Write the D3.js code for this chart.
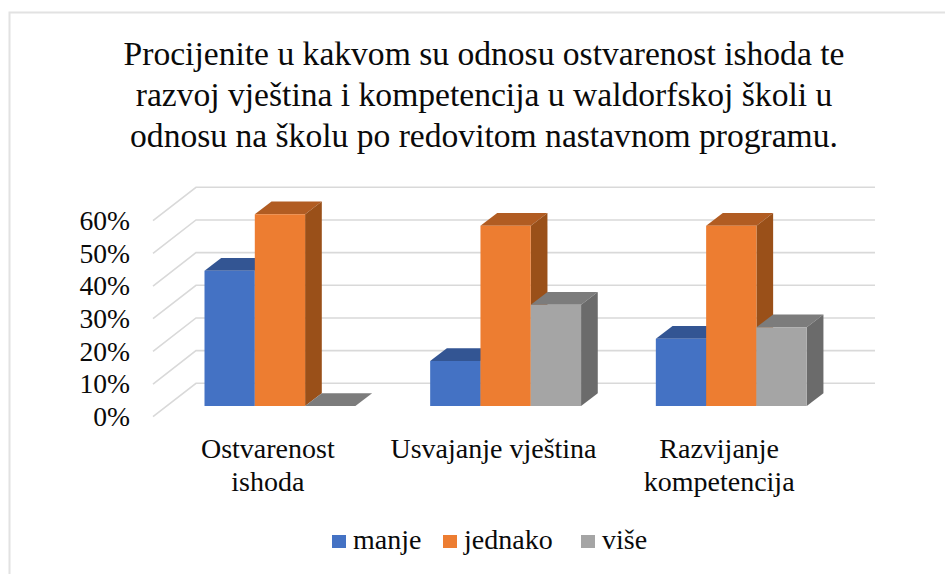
<!DOCTYPE html>
<html>
<head>
<meta charset="utf-8">
<script src="https://cdn.jsdelivr.net/npm/d3@7"></script>
<style>
  html, body { margin: 0; padding: 0; background: #fff; }
  svg { display: block; }
  text { font-family: "Liberation Serif", serif; fill: #0a0a0a; }
</style>
</head>
<body>
<svg id="drawing_region"></svg>
<script>
const titleLines = [
    "Procijenite u kakvom su odnosu ostvarenost ishoda te",
    "razvoj vještina i kompetencija u waldorfskoj školi u",
    "odnosu na školu po redovitom nastavnom programu."
];
const categories = ["Ostvarenost ishoda", "Usvajanje vještina", "Razvijanje kompetencija"];
const categoryLines = [["Ostvarenost", "ishoda"], ["Usvajanje vještina"], ["Razvijanje", "kompetencija"]];
const seriesNames = ["manje", "jednako", "više"];
const manje = [41.4, 13.8, 20.6];
const jednako = [58.7, 55.2, 55.2];
const vise = [0, 31, 24.1];
const yTicks = [0, 10, 20, 30, 40, 50, 60];

const seriesValues = [manje, jednako, vise];
const front = ["#4472c4", "#ed7d31", "#a5a5a5"];
const topFace = ["#335593", "#b15c22", "#7c7c7c"];
const sideFace = ["#2c4a80", "#9a5019", "#6b6b6b"];

const width = 945, height = 574;
const svg = d3.select("#drawing_region").attr("width", width).attr("height", height);

// frame of the pasted picture
svg.append("path")
    .attr("d", `M9.5,${height} V12.5 H${width}`)
    .attr("fill", "none")
    .attr("stroke", "#e2e2e2")
    .attr("stroke-width", 2);

// title
svg.append("g").selectAll("text")
    .data(titleLines)
    .enter()
    .append("text")
    .attr("x", 484)
    .attr("y", (d, i) => 65 + i * 41)
    .attr("text-anchor", "middle")
    .attr("font-size", "33.6px")
    .text(d => d);

// scales: y is the base line of the bars, wall and side grid are the same scale shifted
const y = d3.scaleLinear().domain([0, 60]).range([406, 210]);
const wallDy = -22.7;
const edge = { dx: -43, dy: 33.4 };    // front edge of the side grid, from the wall
const depth = { dx: 16.7, dy: -12.7 }; // depth of a bar

const x0 = d3.scaleBand().domain(categories).range([167, 844]);
const x1 = d3.scaleBand().domain(seriesNames).range([37.5, 188.4]);
const wallLeft = 196, wallRight = 875;

// grid
const line = d3.line();
const grid = svg.append("g")
    .attr("fill", "none")
    .attr("stroke", "#d9d9d9")
    .attr("stroke-width", 1.6);
grid.selectAll("path")
    .data(yTicks)
    .enter()
    .append("path")
    .attr("d", d => line([
        [wallLeft + edge.dx, y(d) + wallDy + edge.dy],
        [wallLeft, y(d) + wallDy],
        [wallRight, y(d) + wallDy]
    ]));

// bars
function face(points) { return line(points) + "Z"; }

const groups = svg.append("g").selectAll("g")
    .data(categories)
    .enter()
    .append("g")
    .attr("transform", d => `translate(${x0(d)},0)`);

seriesNames.forEach((name, s) => {
    const bar = groups.append("g");
    const left = x1(name), right = left + x1.bandwidth();
    const top = (d, i) => y(seriesValues[s][i]);

    bar.append("path")
        .attr("fill", topFace[s])
        .attr("d", (d, i) => face([
            [left, top(d, i)],
            [left + depth.dx, top(d, i) + depth.dy],
            [right + depth.dx, top(d, i) + depth.dy],
            [right, top(d, i)]
        ]));
    bar.append("path")
        .attr("fill", sideFace[s])
        .attr("d", (d, i) => face([
            [right, y(0)],
            [right, top(d, i)],
            [right + depth.dx, top(d, i) + depth.dy],
            [right + depth.dx, y(0) + depth.dy]
        ]));
    bar.append("path")
        .attr("fill", front[s])
        .attr("d", (d, i) => face([
            [left, y(0)],
            [left, top(d, i)],
            [right, top(d, i)],
            [right, y(0)]
        ]));
});

// y axis labels sit on the front edge of the side grid
const yAxis = d3.axisLeft(y.copy().range([y(0) + wallDy + edge.dy, y(60) + wallDy + edge.dy]))
    .tickValues(yTicks)
    .tickSize(0)
    .tickFormat(d => d + "%");
const yAxisG = svg.append("g")
    .attr("transform", "translate(130,0)")
    .call(yAxis);
yAxisG.select(".domain").remove();
yAxisG.selectAll("text").attr("font-size", "27.6px").attr("font-family", null).attr("x", 0).attr("dy", "0.32em");

// category labels
const labels = svg.append("g").selectAll("g")
    .data(categoryLines)
    .enter()
    .append("g");
labels.selectAll("text")
    .data((d, i) => d.map(t => ({ t: t, c: categories[i] })))
    .enter()
    .append("text")
    .attr("x", d => x0(d.c) + x0.bandwidth() / 2 - 12)
    .attr("y", (d, i) => 458 + i * 32.5)
    .attr("text-anchor", "middle")
    .attr("font-size", "28px")
    .text(d => d.t);

// legend
const legendX = [332, 443, 581];
const legend = svg.append("g").selectAll("g")
    .data(seriesNames)
    .enter()
    .append("g")
    .attr("transform", (d, i) => `translate(${legendX[i]},0)`);
legend.append("rect")
    .attr("y", 535)
    .attr("width", 14)
    .attr("height", 13)
    .attr("fill", (d, i) => front[i]);
legend.append("text")
    .attr("x", 21)
    .attr("y", 549)
    .attr("font-size", "28px")
    .text(d => d);
</script>
</body>
</html>
